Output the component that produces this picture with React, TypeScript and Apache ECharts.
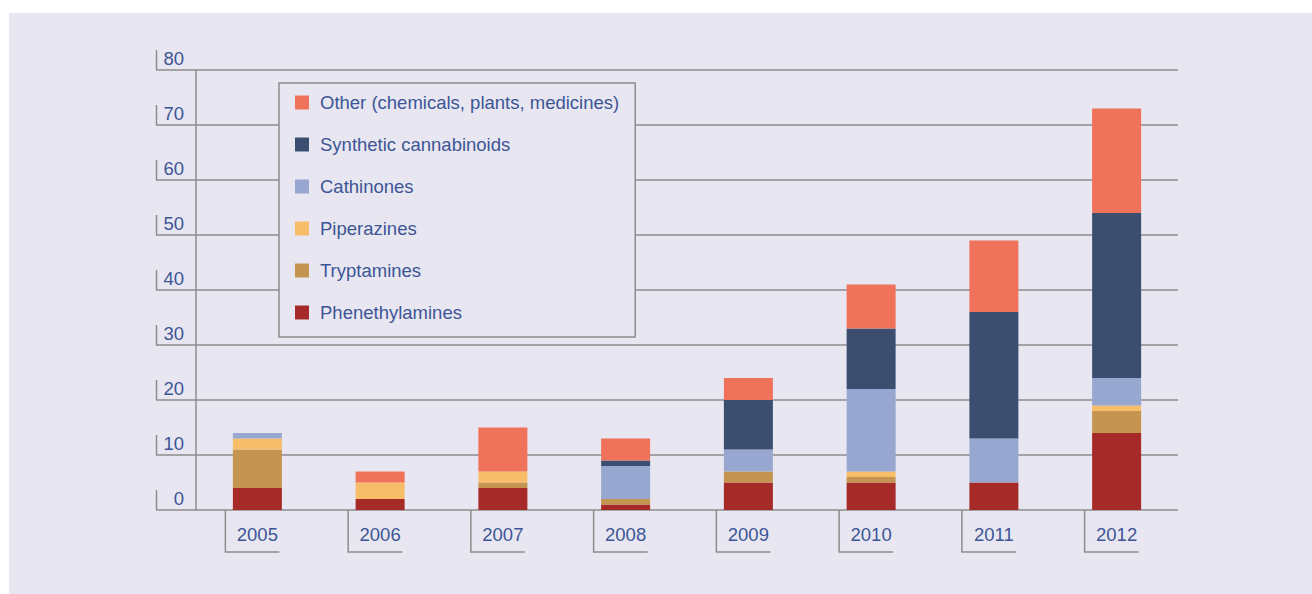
import React, { useEffect, useRef } from "react";
import * as echarts from "echarts";

const years = ["2005", "2006", "2007", "2008", "2009", "2010", "2011", "2012"];
const phenethylamines = [4, 2, 4, 1, 5, 5, 5, 14];
const tryptamines = [7, 0, 1, 1, 2, 1, 0, 4];
const piperazines = [2, 3, 2, 0, 0, 1, 0, 1];
const cathinones = [1, 0, 0, 6, 4, 15, 8, 5];
const syntheticCannabinoids = [0, 0, 0, 1, 9, 11, 23, 30];
const other = [0, 2, 8, 4, 4, 8, 13, 19];
const yTicks = [0, 10, 20, 30, 40, 50, 60, 70, 80];

const seriesDefs = [
  { name: "Phenethylamines", data: phenethylamines, color: "#a52a28" },
  { name: "Tryptamines", data: tryptamines, color: "#c49450" },
  { name: "Piperazines", data: piperazines, color: "#f7bd68" },
  { name: "Cathinones", data: cathinones, color: "#97a7cf" },
  { name: "Synthetic cannabinoids", data: syntheticCannabinoids, color: "#3c4e70" },
  { name: "Other (chemicals, plants, medicines)", data: other, color: "#ef735b" },
];

const FONT = "Liberation Sans, Arial, sans-serif";
const TEXT = "#3d5596";
const LINE = "#8c8c8c";
const BG = "#e8e7f1";

export default function App() {
  const ref = useRef<HTMLDivElement>(null);
  useEffect(() => {
    if (!ref.current) return;
    const chart = echarts.init(ref.current, undefined, { renderer: "svg" });
    const option: any = {
      animation: false,
      backgroundColor: "transparent",
      textStyle: { fontFamily: FONT },
      grid: [
        { left: 196, right: 134, top: 70, bottom: 84 },
        { left: 156, right: 134, top: 70, bottom: 84 },
      ],
      xAxis: [
        {
          type: "category",
          gridIndex: 0,
          data: years,
          axisLine: { show: false },
          axisTick: { show: false },
          axisLabel: { color: TEXT, fontSize: 18.5, fontFamily: FONT, margin: 15 },
        },
        { type: "value", gridIndex: 1, show: false },
      ],
      yAxis: [
        {
          type: "value",
          gridIndex: 0,
          min: 0,
          max: 80,
          interval: 10,
          axisLine: { show: true, lineStyle: { color: LINE, width: 1.5 } },
          axisTick: { show: false },
          axisLabel: { show: false },
          splitLine: { show: false },
        },
        {
          type: "value",
          gridIndex: 1,
          min: 0,
          max: 80,
          interval: 10,
          axisLine: { show: false },
          axisTick: { show: false },
          splitLine: { show: true, lineStyle: { color: LINE, width: 1.5 } },
          axisLabel: {
            inside: true,
            align: "right",
            margin: 28,
            verticalAlign: "bottom",
            padding: [0, 0, 2, 0],
            color: TEXT,
            fontSize: 18.5,
            fontFamily: FONT,
          },
        },
      ],
      legend: {
        orient: "vertical",
        left: 279,
        top: 83,
        data: seriesDefs.map((s) => s.name).reverse(),
        backgroundColor: BG,
        borderColor: LINE,
        borderWidth: 1.5,
        padding: [10, 16, 15, 16],
        itemWidth: 14,
        itemHeight: 14,
        itemGap: 23,
        icon: "rect",
        textStyle: {
          color: TEXT,
          fontSize: 18.5,
          fontFamily: FONT,
          padding: [0, 0, 0, 6],
        },
        z: 10,
      },
      series: seriesDefs.map((s) => ({
        name: s.name,
        type: "bar",
        stack: "total",
        xAxisIndex: 0,
        yAxisIndex: 0,
        barWidth: 49,
        data: s.data,
        itemStyle: { color: s.color },
        z: 3,
      })),
    };
    chart.setOption(option);

    const elements: any[] = [];
    yTicks.forEach((v) => {
      const py = chart.convertToPixel({ yAxisIndex: 1 } as any, v) as number;
      elements.push({
        type: "line",
        shape: { x1: 156.5, y1: py - 20, x2: 156.5, y2: py },
        style: { stroke: LINE, lineWidth: 1.5 },
        silent: true,
      });
    });
    const baseY = chart.convertToPixel({ yAxisIndex: 1 } as any, 0) as number;
    years.forEach((y) => {
      const px = chart.convertToPixel({ xAxisIndex: 0 } as any, y) as number;
      elements.push({
        type: "polyline",
        shape: {
          points: [
            [px - 32, baseY],
            [px - 32, baseY + 42],
            [px + 22, baseY + 42],
          ],
        },
        style: { stroke: LINE, lineWidth: 1.5, fill: null },
        silent: true,
      });
    });
    chart.setOption({ graphic: elements });

    return () => chart.dispose();
  }, []);

  return (
    <div
      style={{
        position: "fixed",
        left: 0,
        top: 0,
        width: 1312,
        height: 594,
        background: "#ffffff",
        overflow: "hidden",
      }}
    >
      <div
        style={{
          position: "absolute",
          left: 9,
          top: 13,
          right: 0,
          bottom: 0,
          background: BG,
        }}
      />
      <div
        ref={ref}
        style={{ position: "absolute", left: 0, top: 0, width: 1312, height: 594 }}
      />
    </div>
  );
}
